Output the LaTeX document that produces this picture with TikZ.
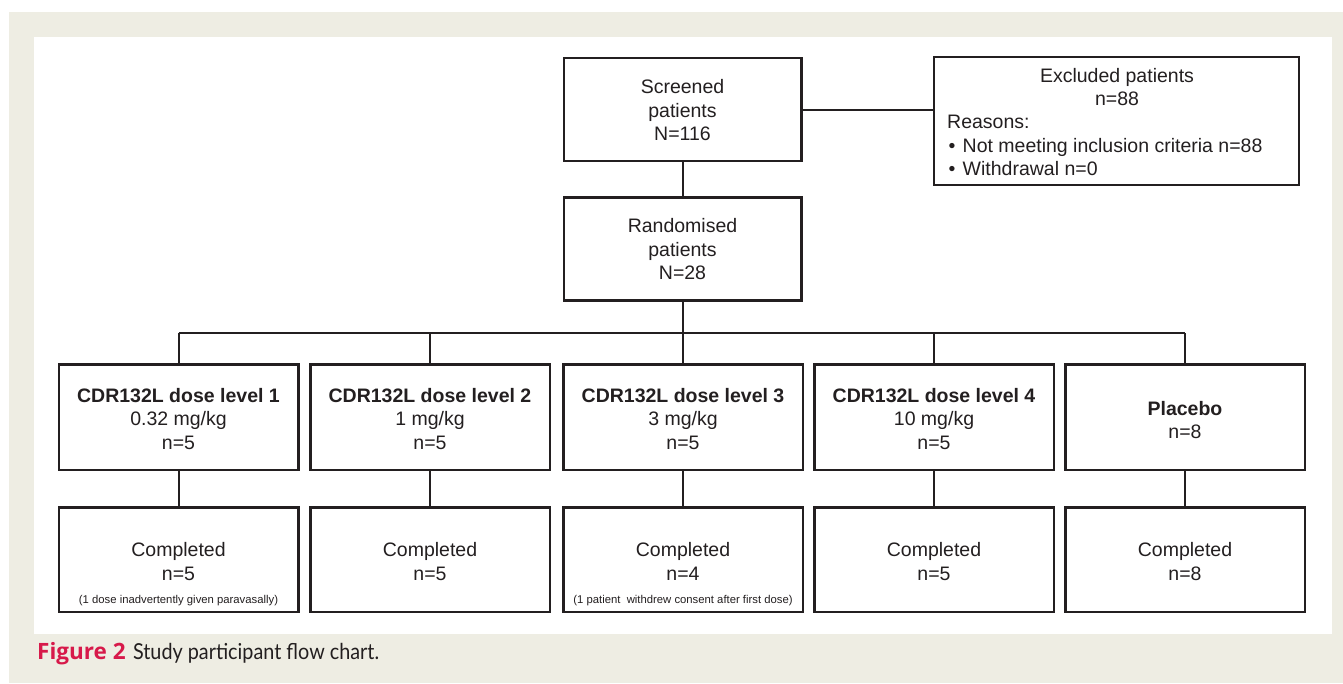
\documentclass[tikz,border=0pt]{standalone}
\usepackage{fontspec}
\setmainfont{Liberation Sans}
\newfontfamily\capfont{Lato}
\newfontfamily\capbold{Open Sans}
\definecolor{beige}{HTML}{EEEDE3}
\definecolor{ink}{HTML}{231F20}
\definecolor{capred}{HTML}{D7194A}
\begin{document}
\begin{tikzpicture}[x=1pt,y=-1pt,
  box/.style={draw=ink,line width=2.5pt,rectangle,inner sep=0pt,minimum width=239.5pt},
  toprow/.style={box,minimum height=103pt},
  midrow/.style={box,minimum height=105.5pt},
  lowrow/.style={box,minimum height=104.5pt},
  txt/.style={align=center,text=ink,inner sep=0pt,font=\fontsize{19.5}{23.5}\selectfont},
  note/.style={align=center,text=ink,inner sep=0pt,font=\fontsize{11.3}{13}\selectfont},
  link/.style={draw=ink,line width=2pt}]
\useasboundingbox (0,0) rectangle (1343,683);
\fill[white] (0,0) rectangle (1343,683);
\fill[beige] (9,12) rectangle (1343,683);
\fill[white] (34,37) rectangle (1332,634);

% top boxes
\node[toprow,minimum width=237.5pt] (scr) at (682.5,109.5) {};
\node[txt] (scrt) at (682.5,110.5) {Screened\\patients\\N=116};
\node[box,minimum width=365pt,minimum height=128pt] (exc) at (1116.5,121) {};
\node[txt] (exct) at (1117,87) {Excluded patients\\n=88};
\node[txt,align=left,anchor=west] (excl) at (947,145.5) {Reasons:\\\makebox[15.5pt][l]{\hspace{1.5pt}\textbullet}Not meeting inclusion criteria n=88\\\makebox[15.5pt][l]{\hspace{1.5pt}\textbullet}Withdrawal n=0};
\node[toprow,minimum width=237.5pt] (rand) at (682.5,249) {};
\node[txt] (randt) at (682.5,249.5) {Randomised\\patients\\N=28};

% dose level boxes
\foreach \i/\x/\hd/\dose in {1/178.5/CDR132L dose level 1/0.32 mg\slash kg\\n=5,
                              2/430/CDR132L dose level 2/1 mg\slash kg\\n=5,
                              3/683/CDR132L dose level 3/3 mg\slash kg\\n=5,
                              4/934/CDR132L dose level 4/10 mg\slash kg\\n=5}{
  \node[midrow] (l\i) at (\x,417) {};
  \node[txt] (l\i t) at (\x,419) {\textbf{\hd}\\\dose};
}
\node[midrow] (l5) at (1185,417) {};
\node[txt] (l5t) at (1185,420) {\textbf{Placebo}\\n=8};

% completed boxes
\foreach \i/\x/\n in {1/178.5/5,2/430/5,3/683/4,4/934/5,5/1185/8}{
  \node[lowrow] (c\i) at (\x,559.5) {};
  \node[txt] (c\i t) at (\x,561.5) {Completed\\n=\n};
}
\node[note] (c1n) at (178.5,600.5) {(1 dose inadvertently given paravasally)};
\node[note] (c3n) at (683,600.5) {(1 patient\ \ withdrew consent after first dose)};

% connectors
\coordinate (bus) at (682.5,333.3);
\draw[link] (scr.east) -- (scr.east -| exc.west);
\draw[link] (scr.south) -- (rand.north);
\draw[link] (rand.south) -- (rand.south |- bus);
\draw[link] (l1.north |- bus) -- (l5.north |- bus);
\foreach \i in {1,...,5}{
  \draw[link] (l\i.north |- bus) -- (l\i.north);
  \draw[link] (l\i.south) -- (c\i.north);
}

% caption
\node[anchor=base west,inner sep=0pt,text=capred,font=\capbold\bfseries\fontsize{22.5}{24}\selectfont] (fig) at (37,659) {Figure 2};
\node[anchor=base west,inner sep=0pt,text=ink,font=\capfont\fontsize{22}{24}\selectfont] (capt) at ([xshift=7pt]fig.base east) {\scalebox{0.9}[1]{Study participant flow chart.}};
\end{tikzpicture}
\end{document}
